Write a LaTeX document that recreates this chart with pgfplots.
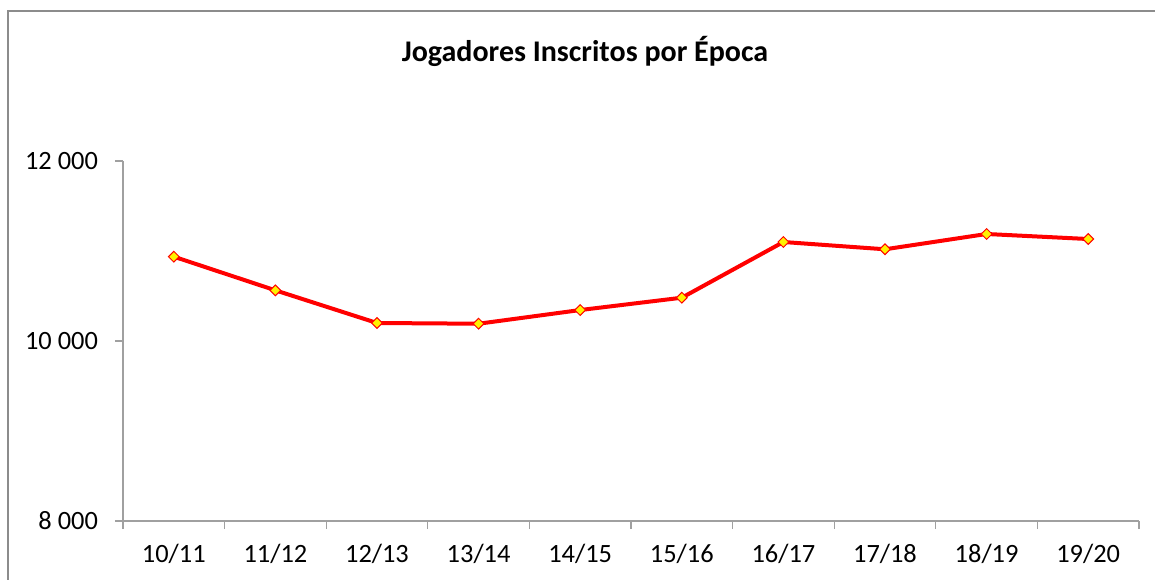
\documentclass[border=0pt]{standalone}
\usepackage{pgfplots}
\pgfplotsset{compat=1.18}
\usepackage{fontspec}
\setmainfont{Carlito}
\definecolor{axgray}{HTML}{A0A0A0}
\definecolor{framegray}{HTML}{8C8C8C}
\begin{document}
\begin{tikzpicture}
\useasboundingbox (0,0) rectangle (577.5pt,289.5pt);
\draw[framegray, line width=0.8pt] (4pt,-2pt) -- (4pt,284pt) -- (580pt,284pt);
\node[font=\fontsize{15}{18}\selectfont\bfseries] at (292.5pt,264pt) {Jogadores Inscritos por Época};
\begin{axis}[
  at={(61.5pt,29pt)}, anchor=south west,
  scale only axis, width=508pt, height=180pt,
  xmin=-0.5, xmax=9.5, ymin=8000, ymax=12000,
  scaled y ticks=false,
  axis lines*=left, axis line style={-, axgray, line width=0.6pt},
  xtick={0,...,9},
  xticklabels={10/11,11/12,12/13,13/14,14/15,15/16,16/17,17/18,18/19,19/20},
  major x tick style={draw=none},
  minor xtick={-0.5,0.5,...,9.5},
  minor x tick style={axgray, line width=0.6pt},
  minor tick length=4pt,
  ytick={8000,10000,12000},
  yticklabels={8 000,10 000,12 000},
  major y tick style={axgray, line width=0.6pt},
  major tick length=4pt,
  tick align=outside,
  ticklabel style={font=\fontsize{13.2}{16}\selectfont},
  xticklabel style={yshift=-4pt},
  yticklabel style={xshift=-5pt},
  clip=false,
]
\addplot[red, line width=2pt, mark=square*, mark size=1.9pt,
  mark options={fill=yellow, draw=red, line width=0.5pt, rotate=45}]
  coordinates {
  (0,10937) (1,10563) (2,10200) (3,10192) (4,10344)
  (5,10481) (6,11100) (7,11019) (8,11189) (9,11133)
  };
\end{axis}
\end{tikzpicture}
\end{document}
